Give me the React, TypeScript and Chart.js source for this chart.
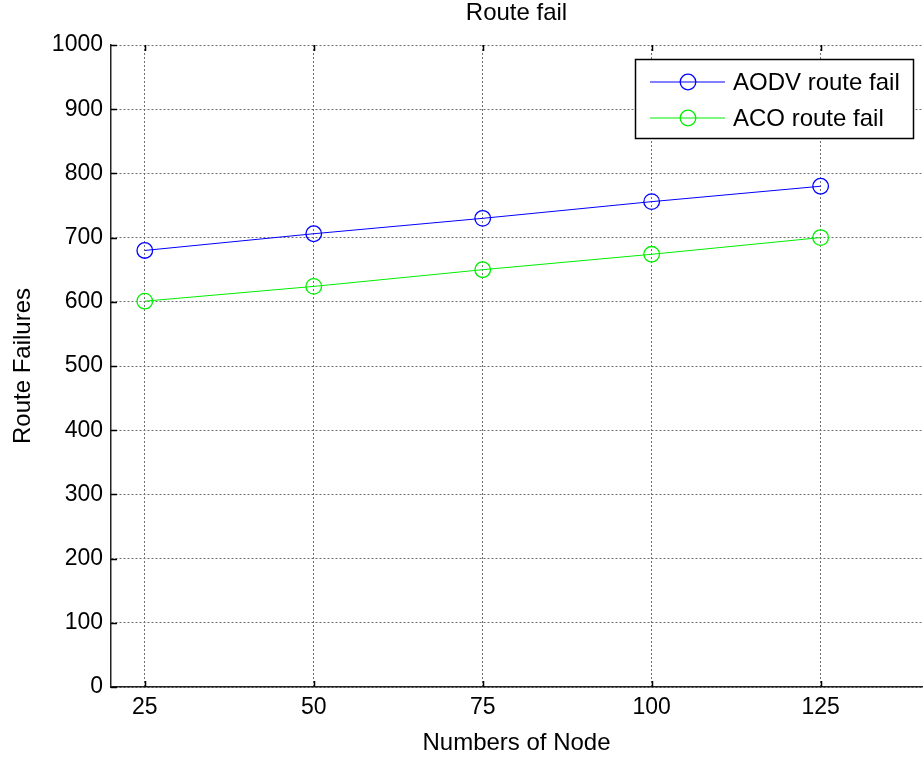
import React, { useEffect, useRef } from "react";
import { Chart, registerables } from "chart.js";

Chart.register(...registerables);

const nodeCounts = [25, 50, 75, 100, 125];
const aodvRouteFail = [680, 706, 730, 756, 780];
const acoRouteFail = [601, 624, 650, 674, 700];
const xTickValues = [25, 50, 75, 100, 125];
const seriesLabels = ["AODV route fail", "ACO route fail"];
const seriesColors = ["#0000ff", "#00ee00"];

const FONT = "'Liberation Sans', Arial, Helvetica, sans-serif";

const innerTicks = {
  id: "innerTicks",
  afterDraw(chart: any) {
    const { ctx, chartArea, scales } = chart;
    const len = 6;
    ctx.save();
    ctx.strokeStyle = "#000";
    ctx.lineWidth = 1.5;
    ctx.beginPath();
    scales.y.ticks.forEach((t: any) => {
      const y = Math.round(scales.y.getPixelForValue(t.value)) + 0.5;
      ctx.moveTo(chartArea.left, y);
      ctx.lineTo(chartArea.left + len, y);
    });
    scales.x.ticks.forEach((t: any) => {
      const x = Math.round(scales.x.getPixelForValue(t.value)) + 0.5;
      ctx.moveTo(x, chartArea.bottom);
      ctx.lineTo(x, chartArea.bottom - len);
      ctx.moveTo(x, chartArea.top);
      ctx.lineTo(x, chartArea.top + len);
    });
    ctx.stroke();
    ctx.restore();
  },
};

const boxLegend = {
  id: "boxLegend",
  afterDraw(chart: any) {
    const { ctx, chartArea } = chart;
    const right = chartArea.right - 9;
    const top = chartArea.top + 14;
    const w = 278;
    const h = 79;
    const left = right - w;
    ctx.save();
    ctx.fillStyle = "#fff";
    ctx.fillRect(left, top, w, h);
    ctx.strokeStyle = "#000";
    ctx.lineWidth = 1.5;
    ctx.strokeRect(left + 0.5, top + 0.5, w, h);
    chart.data.datasets.forEach((ds: any, i: number) => {
      const y = top + 23 + i * 36;
      ctx.strokeStyle = ds.borderColor;
      ctx.lineWidth = 1;
      ctx.beginPath();
      ctx.moveTo(left + 15, y);
      ctx.lineTo(left + 90, y);
      ctx.stroke();
      ctx.beginPath();
      ctx.lineWidth = 1.3;
      ctx.arc(left + 53, y, 7.8, 0, Math.PI * 2);
      ctx.stroke();
      ctx.fillStyle = "#000";
      ctx.font = `24px ${FONT}`;
      ctx.textBaseline = "middle";
      ctx.textAlign = "left";
      ctx.fillText(ds.label, left + 98, y + 1);
    });
    ctx.restore();
  },
};

export default function App() {
  const ref = useRef<HTMLCanvasElement | null>(null);
  useEffect(() => {
    document.body.style.margin = "0";
    const canvas = ref.current!;
    const mk = (vals: number[]) => nodeCounts.map((x, i) => ({ x, y: vals[i] }));
    const ds = (i: number, vals: number[]) => ({
      label: seriesLabels[i],
      data: mk(vals),
      borderColor: seriesColors[i],
      backgroundColor: "transparent",
      borderWidth: 1,
      pointRadius: 7.8,
      pointBorderWidth: 1.3,
      pointBackgroundColor: "transparent",
      pointBorderColor: seriesColors[i],
    });
    const chart = new Chart(canvas, {
      type: "line",
      data: {
        datasets: [ds(0, aodvRouteFail), ds(1, acoRouteFail)],
      },
      options: {
        responsive: false,
        animation: false,
        devicePixelRatio: 1,
        layout: { autoPadding: false, padding: { left: 0, right: 1, top: 0, bottom: 0 } },
        font: { family: FONT },
        plugins: {
          legend: { display: false },
          tooltip: { enabled: false },
          title: {
            display: true,
            text: "Route fail",
            color: "#000",
            fullSize: false,
            font: { family: FONT, size: 24, weight: "normal", lineHeight: 1 },
            padding: { top: 1, bottom: 20 },
          },
        },
        scales: {
          x: {
            type: "linear",
            min: 20,
            max: 140,
            afterBuildTicks: (scale: any) => {
              scale.ticks = xTickValues.map((v) => ({ value: v }));
            },
            afterFit: (scale: any) => {
              scale.height = 72;
              scale.paddingLeft = 0;
              scale.paddingRight = 0;
            },
            ticks: {
              color: "#000",
              font: { family: FONT, size: 23 },
              padding: 7,
              maxRotation: 0,
              autoSkip: false,
            },
            grid: { color: "#6f6f6f", drawTicks: false, lineWidth: 1 },
            border: { display: true, color: "#222", width: 1.5, dash: [2, 2] },
            title: {
              display: true,
              text: "Numbers of Node",
              color: "#000",
              font: { family: FONT, size: 24 },
              padding: { top: 0, bottom: 1 },
            },
          },
          y: {
            type: "linear",
            min: 0,
            max: 1000,
            afterFit: (scale: any) => {
              scale.width = 111;
            },
            ticks: {
              stepSize: 100,
              color: "#000",
              font: { family: FONT, size: 23 },
              padding: 8,
              callback: (v: any) => String(v),
            },
            grid: { color: "#6f6f6f", drawTicks: false, lineWidth: 1 },
            border: { display: true, color: "#222", width: 1.5, dash: [2, 2] },
            title: {
              display: true,
              text: "Route Failures",
              color: "#000",
              font: { family: FONT, size: 24 },
              padding: { top: 9, bottom: 0 },
            },
          },
        },
      },
      plugins: [innerTicks, boxLegend],
    } as any);
    return () => chart.destroy();
  }, []);
  return (
    <canvas
      ref={ref}
      width={923}
      height={759}
      style={{ position: "fixed", left: 0, top: 0, width: 923, height: 759, background: "#fff" }}
    />
  );
}
